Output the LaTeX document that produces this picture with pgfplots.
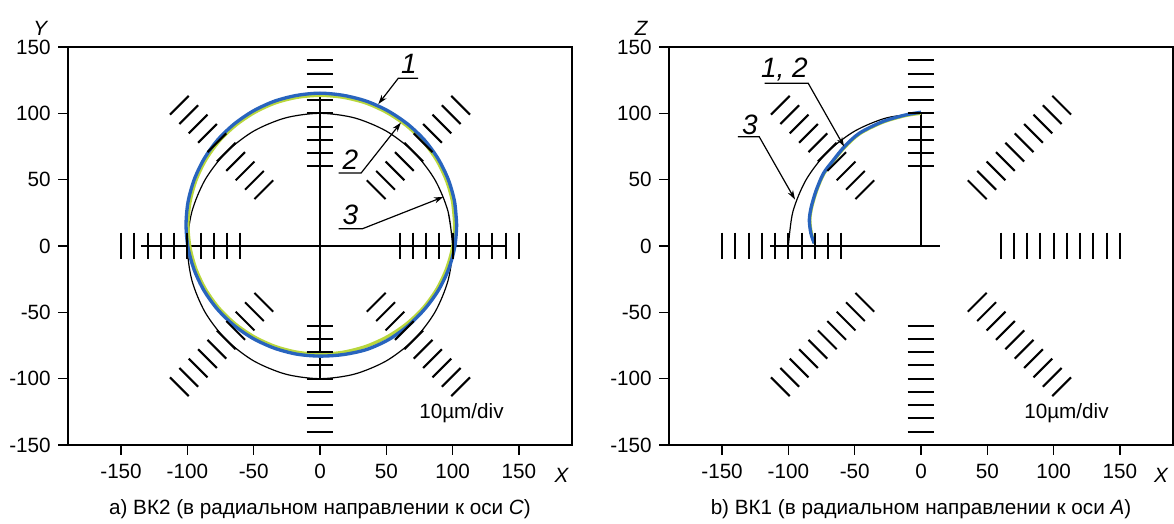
\documentclass[border=0pt]{standalone}
\usepackage{fontspec}
\setmainfont{Liberation Sans}
\usepackage{pgfplots}
\pgfplotsset{compat=1.18}
\usetikzlibrary{arrows.meta}

\definecolor{meas}{RGB}{40,100,190}
\definecolor{meas2}{RGB}{185,215,60}

\pgfplotsset{
  panel/.style={
    scale only axis, width=378pt, height=298.5pt,
    xmin=-190, xmax=190, ymin=-150, ymax=150,
    xtick={-150,-100,...,150}, ytick={-150,-100,...,150},
    tick align=outside, xtick pos=left, ytick pos=left,
    major tick length=7.5pt,
    major tick style={line width=1pt, black},
    axis line style={line width=1.5pt},
    tick label style={font=\fontsize{15.5}{18}\selectfont},
    xticklabel style={yshift=-3pt},
    yticklabel style={xshift=-2pt},
    /pgf/number format/assume math mode=true,
    clip=false,
  },
  arm/.style={only marks, mark=|, mark size=9.95pt, black,
    mark options={line width=1.5pt, black, solid, rotate=#1}},
  arm/.default=0,
  cross/.style={black, line width=1.2pt, mark=none},
  ref/.style={black, line width=0.9pt, smooth, mark=none},
  lead/.style={black, line width=0.9pt, mark=none, -{Stealth[length=7pt, width=4.5pt]}},
}
\tikzset{
  lbl/.style={font=\itshape\fontsize{21}{25}\selectfont},
  txt/.style={font=\fontsize{15.5}{18}\selectfont},
  itx/.style={font=\itshape\fontsize{15.5}{18}\selectfont},
}

\begin{document}
\begin{tikzpicture}
\path[use as bounding box] (-51pt,-59.25pt) rectangle (829.5pt,333.75pt);

% ---------- a) BK2 ----------
\begin{axis}[panel, at={(0pt,0pt)}, anchor=south west]
  \addplot[cross] coordinates {(-135,0) (140,0)};
  \addplot[cross] coordinates {(0,-100) (0,113)};
  % scale marks
  \addplot[arm] coordinates {(60,0) (70,0) (80,0) (90,0) (100,0) (110,0) (120,0) (130,0) (140,0) (150,0)
    (-60,0) (-70,0) (-80,0) (-90,0) (-100,0) (-110,0) (-120,0) (-130,0) (-140,0) (-150,0)};
  \addplot[arm=90] coordinates {(0,60) (0,70) (0,80) (0,90) (0,100) (0,110) (0,120) (0,130) (0,140)
    (0,-60) (0,-70) (0,-80) (0,-90) (0,-100) (0,-110) (0,-120) (0,-130) (0,-140)};
  \addplot[arm=45] coordinates {(42.43,42.43) (49.50,49.50) (56.57,56.57) (63.64,63.64) (70.71,70.71)
    (77.78,77.78) (84.85,84.85) (91.92,91.92) (98.99,98.99) (106.07,106.07)
    (-42.43,-42.43) (-49.50,-49.50) (-56.57,-56.57) (-63.64,-63.64) (-70.71,-70.71)
    (-77.78,-77.78) (-84.85,-84.85) (-91.92,-91.92) (-98.99,-98.99) (-106.07,-106.07)};
  \addplot[arm=-45] coordinates {(-42.43,42.43) (-49.50,49.50) (-56.57,56.57) (-63.64,63.64) (-70.71,70.71)
    (-77.78,77.78) (-84.85,84.85) (-91.92,91.92) (-98.99,98.99) (-106.07,106.07)
    (42.43,-42.43) (49.50,-49.50) (56.57,-56.57) (63.64,-63.64) (70.71,-70.71)
    (77.78,-77.78) (84.85,-84.85) (91.92,-91.92) (98.99,-98.99) (106.07,-106.07)};
  % 3: nominal circle
  \addplot[ref] coordinates {(100,0) (96.59,25.88) (86.60,50) (70.71,70.71) (50,86.60) (25.88,96.59)
    (0,100) (-25.88,96.59) (-50,86.60) (-70.71,70.71) (-86.60,50) (-96.59,25.88)
    (-100,0) (-96.59,-25.88) (-86.60,-50) (-70.71,-70.71) (-50,-86.60) (-25.88,-96.59)
    (0,-100) (25.88,-96.59) (50,-86.60) (70.71,-70.71) (86.60,-50) (96.59,-25.88)
    (100,0) (96.59,25.88)};
  % 2: measured
  \addplot[meas2, line width=2.4pt, smooth, mark=none] coordinates {
    (101.5,16) (100.0,32.9) (95.3,49.4) (87.9,64.8) (77.7,78.8) (65.2,90.7) (50.7,100.4)
    (34.7,107.7) (17.6,112.0) (0,113.5) (-17.3,112.0) (-34.0,107.7) (-49.7,100.4)
    (-63.9,90.7) (-76.2,78.8) (-86.2,64.8) (-93.5,49.4) (-98.0,32.9) (-99.5,16)
    (-98.0,-0.9) (-93.5,-17.4) (-86.2,-32.8) (-76.2,-46.8) (-63.9,-58.7) (-49.7,-68.4)
    (-34.0,-75.6) (-17.3,-80.0) (0,-81.5) (17.6,-80.0) (34.7,-75.6) (50.7,-68.4)
    (65.2,-58.7) (77.7,-46.8) (87.9,-32.8) (95.3,-17.4) (100.0,-0.9) (101.5,16) (100.0,32.9)};
  % 1: measured
  \addplot[meas, line width=2.5pt, smooth, mark=none] coordinates {
    (103.0,16.0) (101.5,33.2) (96.8,49.9) (89.2,65.5) (78.9,79.7) (66.2,91.8) (51.5,101.7)
    (35.2,109.1) (17.9,113.5) (0,115.2) (-17.6,113.5) (-34.5,109.1) (-50.5,101.7)
    (-64.9,91.8) (-77.4,79.7) (-87.5,65.5) (-94.9,49.9) (-99.5,33.2) (-101,16)
    (-99.5,-1.2) (-94.9,-17.9) (-87.5,-33.5) (-77.4,-47.6) (-64.9,-59.8) (-50.5,-69.7)
    (-34.5,-77.0) (-17.6,-81.5) (0,-83) (17.9,-81.8) (35.2,-78.0) (51.5,-70.7)
    (66.2,-60.3) (78.9,-47.6) (89.2,-33.5) (96.8,-17.9) (101.5,-1.2) (103.0,16.0) (101.5,33.2)};
  % leaders
  \addplot[lead] coordinates {(74,126.4) (59,126.4) (44,107)};
  \addplot[lead] coordinates {(14,55) (31,55) (61,93)};
  \addplot[lead] coordinates {(14,13) (32,13) (93,37)};
  \node[lbl] at (axis cs:67,137) {1};
  \node[lbl] at (axis cs:23,65) {2};
  \node[lbl] at (axis cs:23,23.5) {3};
  \node[txt, anchor=east] at (axis cs:142,-126) {10µm/div};
  \node[itx] at (axis cs:-211,164) {Y};
  \node[itx] at (axis cs:182,-173) {X};
  \node[txt] at (axis cs:0,-198) {a) ВК2 (в радиальном направлении к оси \textit{C})};
\end{axis}

% ---------- b) BK1 ----------
\begin{axis}[panel, at={(450.75pt,0pt)}, anchor=south west]
  \addplot[cross] coordinates {(-114,0) (14,0)};
  \addplot[cross] coordinates {(0,0) (0,100)};
  \addplot[arm] coordinates {(60,0) (70,0) (80,0) (90,0) (100,0) (110,0) (120,0) (130,0) (140,0) (150,0)
    (-60,0) (-70,0) (-80,0) (-90,0) (-100,0) (-110,0) (-120,0) (-130,0) (-140,0) (-150,0)};
  \addplot[arm=90] coordinates {(0,60) (0,70) (0,80) (0,90) (0,100) (0,110) (0,120) (0,130) (0,140)
    (0,-60) (0,-70) (0,-80) (0,-90) (0,-100) (0,-110) (0,-120) (0,-130) (0,-140)};
  \addplot[arm=45] coordinates {(42.43,42.43) (49.50,49.50) (56.57,56.57) (63.64,63.64) (70.71,70.71)
    (77.78,77.78) (84.85,84.85) (91.92,91.92) (98.99,98.99) (106.07,106.07)
    (-42.43,-42.43) (-49.50,-49.50) (-56.57,-56.57) (-63.64,-63.64) (-70.71,-70.71)
    (-77.78,-77.78) (-84.85,-84.85) (-91.92,-91.92) (-98.99,-98.99) (-106.07,-106.07)};
  \addplot[arm=-45] coordinates {(-42.43,42.43) (-49.50,49.50) (-56.57,56.57) (-63.64,63.64) (-70.71,70.71)
    (-77.78,77.78) (-84.85,84.85) (-91.92,91.92) (-98.99,98.99) (-106.07,106.07)
    (42.43,-42.43) (49.50,-49.50) (56.57,-56.57) (63.64,-63.64) (70.71,-70.71)
    (77.78,-77.78) (84.85,-84.85) (91.92,-91.92) (98.99,-98.99) (106.07,-106.07)};
  \addplot[ref] coordinates {(0,100) (-25.88,96.59) (-50,86.60) (-70.71,70.71) (-86.60,50) (-96.59,25.88) (-100,0)};
  \addplot[meas2, line width=2.4pt, smooth, mark=none] coordinates {
    (0,100) (-12,98.2) (-29,93.2) (-46.2,84.6) (-57.5,74.4) (-65.7,64.5) (-73.2,54.5)
    (-78.6,42) (-82.3,29.6) (-83.8,19.6) (-82.6,9.5) (-80.2,2)};
  \addplot[meas, line width=2.5pt, smooth, mark=none] coordinates {
    (0,100.8) (-12,98.7) (-29,93.7) (-46.5,85) (-57.8,74.8) (-66,64.8) (-73.5,54.8)
    (-79,42) (-82.7,29.6) (-84.2,19.6) (-83,9.5) (-80.5,2)};
  \addplot[lead] coordinates {(-118,122.6) (-85,122.6) (-58,75)};
  \addplot[lead] coordinates {(-138,82.4) (-122,82.4) (-95,35)};
  \node[lbl] at (axis cs:-103,133) {1, 2};
  \node[lbl] at (axis cs:-129,91) {3};
  \node[txt, anchor=east] at (axis cs:145,-126) {10µm/div};
  \node[itx] at (axis cs:-211,164) {Z};
  \node[itx] at (axis cs:181,-173) {X};
  \node[txt] at (axis cs:0,-198) {b) ВК1 (в радиальном направлении к оси \textit{A})};
\end{axis}
\end{tikzpicture}
\end{document}
